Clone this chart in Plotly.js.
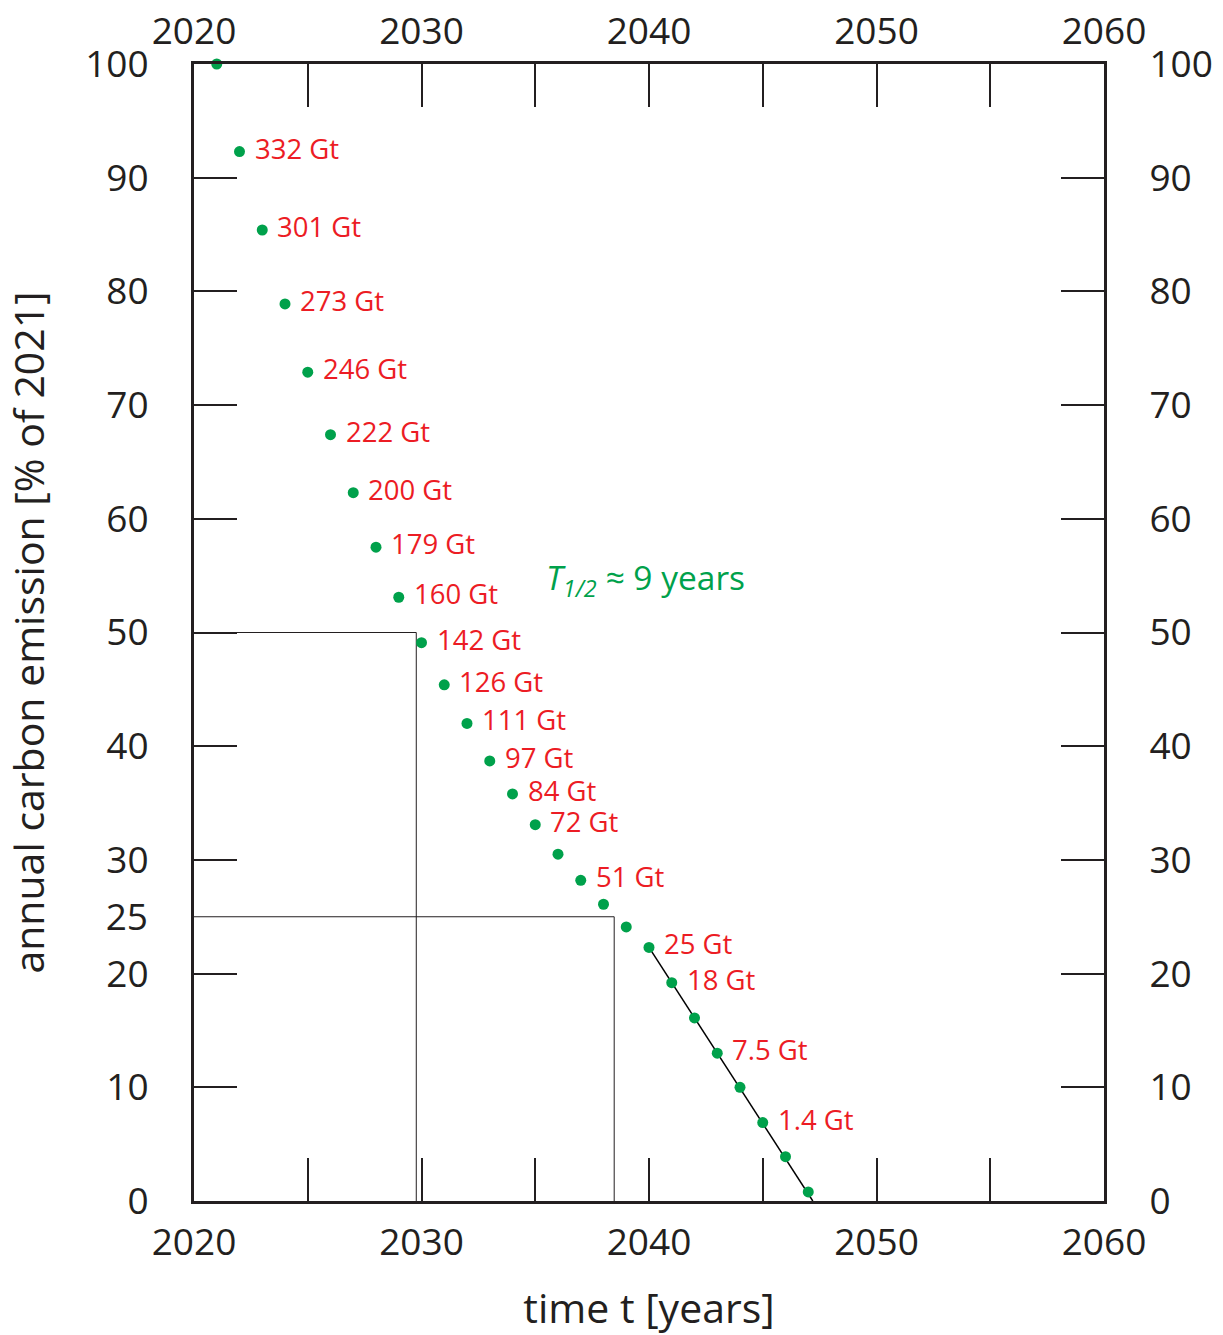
<!DOCTYPE html>
<html>
<head>
<meta charset="utf-8">
<script src="https://cdn.plot.ly/plotly-3.0.1.min.js"></script>
<style>html,body{margin:0;padding:0;background:#fff;}#chart{width:1223px;height:1335px;}</style>
</head>
<body>
<div id="chart"></div>
<script>
// ---- data ----
const years = [2021,2022,2023,2024,2025,2026,2027,2028,2029,2030,2031,2032,2033,2034,2035,2036,2037,2038,2039,2040,2041,2042,2043,2044,2045,2046,2047];
const emission = [100,92.3,85.4,78.9,72.9,67.4,62.3,57.5,53.1,49.1,45.4,42.0,38.7,35.8,33.1,30.5,28.2,26.1,24.1,22.3,19.2,16.1,13.0,10.0,6.9,3.9,0.8];
const budgetLabels = ['','332 Gt','301 Gt','273 Gt','246 Gt','222 Gt','200 Gt','179 Gt','160 Gt','142 Gt','126 Gt','111 Gt','97 Gt','84 Gt','72 Gt','','51 Gt','','','25 Gt','18 Gt','','7.5 Gt','','1.4 Gt','',''];
const linearX = [2040, 2047.2];
const linearY = [22.3, 0];
const halfX = [2020, 2029.77, 2029.77];
const halfY = [50, 50, 0];
const quarterX = [2020, 2038.47, 2038.47];
const quarterY = [25, 25, 0];
const xTickVals = [2020,2025,2030,2035,2040,2045,2050,2055,2060];
const xTickText = ['2020','','2030','','2040','','2050','','2060'];
const yTickVals = [0,10,20,30,40,50,60,70,80,90,100];
const yExtraTick = [25];
const halfLifeText = '<i>T</i><sub><i>1/2</i></sub> ≈ 9 years';
const halfLifePos = [2035.4, 54.7];

const GREEN = '#00a14b', RED = '#ec1c24', INK = '#231f20';
const FONT = 'Open Sans, sans-serif';

const traces = [
  {x: halfX, y: halfY, mode: 'lines', line: {color: INK, width: 1}, hoverinfo: 'skip', showlegend: false},
  {x: quarterX, y: quarterY, mode: 'lines', line: {color: INK, width: 1}, hoverinfo: 'skip', showlegend: false},
  {x: linearX, y: linearY, mode: 'lines', line: {color: '#000', width: 1.5}, hoverinfo: 'skip', showlegend: false},
  {x: years, y: emission, mode: 'markers', marker: {color: GREEN, size: 11}, cliponaxis: false, showlegend: false}
];

const annotations = [];
years.forEach((yr, i) => {
  if (budgetLabels[i]) {
    annotations.push({x: yr, y: emission[i], xref: 'x', yref: 'y', text: budgetLabels[i], showarrow: false,
      xanchor: 'left', yanchor: 'middle', xshift: 14, yshift: 4, height: 26, borderpad: 0,
      font: {family: FONT, size: 27.5, color: RED}});
  }
});
annotations.push({x: halfLifePos[0], y: halfLifePos[1], xref: 'x', yref: 'y', text: halfLifeText, showarrow: false,
  xanchor: 'left', yanchor: 'middle', font: {family: FONT, size: 33.5, color: GREEN}});

const tickFont = {family: FONT, size: 37, color: INK};
const axisCommon = {showgrid: false, zeroline: false, showline: true, linewidth: 3, linecolor: INK,
  ticks: 'inside', ticklen: 43, tickwidth: 2, tickcolor: INK, tickfont: tickFont};

const layout = {
  width: 1223, height: 1335,
  margin: {l: 194, r: 119, t: 64, b: 134},
  paper_bgcolor: '#fff', plot_bgcolor: '#fff',
  font: {family: FONT, color: INK},
  xaxis: Object.assign({}, axisCommon, {range: [2020, 2060], tickmode: 'array', tickvals: xTickVals, ticktext: xTickText,
    ticklabelstandoff: 7,
    title: {text: 'time t [years]', font: {family: FONT, size: 41, color: INK}, standoff: 33}}),
  xaxis2: Object.assign({}, axisCommon, {range: [2020, 2060], overlaying: 'x', side: 'top', tickmode: 'array',
    tickvals: xTickVals, ticktext: xTickText, ticklabelstandoff: 2}),
  yaxis: Object.assign({}, axisCommon, {range: [0, 100], tickmode: 'array', tickvals: yTickVals, ticklabelstandoff: 35,
    title: {text: 'annual carbon emission [% of 2021]', font: {family: FONT, size: 41, color: INK}, standoff: 42}}),
  yaxis2: Object.assign({}, axisCommon, {range: [0, 100], overlaying: 'y', side: 'right', tickmode: 'array',
    tickvals: yTickVals, ticklabelstandoff: 35}),
  yaxis3: {range: [0, 100], overlaying: 'y', side: 'left', showgrid: false, zeroline: false, showline: false,
    ticks: '', tickmode: 'array', tickvals: yExtraTick, ticklabelstandoff: 45, tickfont: tickFont},
  annotations: annotations
};

// invisible anchor traces so the overlay axes render
traces.push({x: [2020], y: [0], xaxis: 'x2', yaxis: 'y2', mode: 'markers', marker: {opacity: 0}, hoverinfo: 'skip', showlegend: false});
traces.push({x: [2020], y: [0], xaxis: 'x', yaxis: 'y3', mode: 'markers', marker: {opacity: 0}, hoverinfo: 'skip', showlegend: false});

Plotly.newPlot('chart', traces, layout, {displayModeBar: false, staticPlot: true});
</script>
</body>
</html>
